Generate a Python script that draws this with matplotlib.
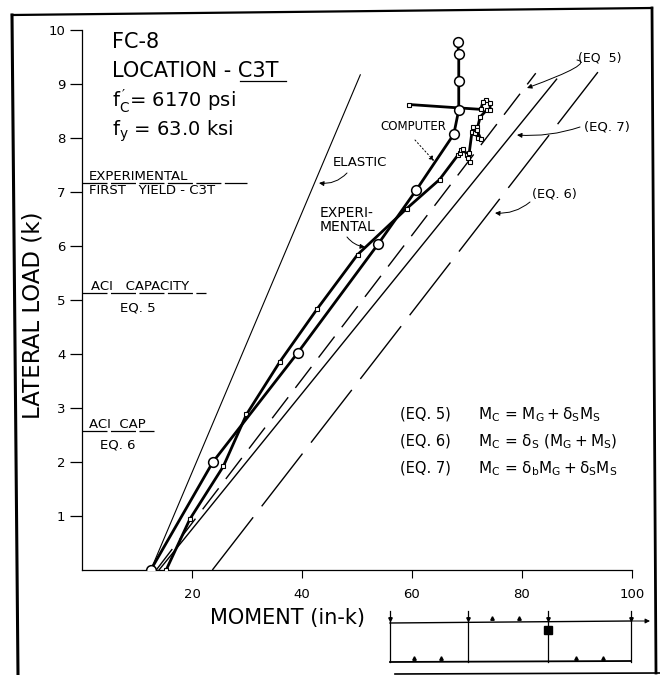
import matplotlib
matplotlib.use("Agg")
import matplotlib.pyplot as plt

plt.rcParams.update({
    "font.family": "DejaVu Sans",
    "mathtext.fontset": "dejavusans",
    "lines.scale_dashes": False,
})

#Computer curve (circles)
comp_moment = [12.5, 23.8, 39.2, 53.8, 60.8, 67.6, 68.5, 68.5, 68.5, 68.3]
comp_load = [0.0, 2.0, 4.02, 6.03, 7.04, 8.07, 8.52, 9.06, 9.55, 9.78]

#Experimental curve (squares), bunched up where the section yields
exp_moment = [15.3, 19.6, 25.7, 29.9, 36.0, 42.8, 50.1, 59.0, 65.0, 68.4, 68.7, 68.9, 69.3,
              70.0, 70.2, 70.5, 70.4, 70.9, 71.1, 71.8, 71.5, 72.0, 72.5, 71.8, 72.4,
              73.6, 74.2, 74.2, 73.5, 72.9, 72.5, 59.5]
exp_load = [0.0, 0.94, 1.92, 2.88, 3.86, 4.84, 5.84, 6.69, 7.23, 7.69, 7.72, 7.78, 7.8,
            7.69, 7.63, 7.56, 7.72, 8.11, 8.2, 8.2, 8.09, 8.0, 7.98, 8.15, 8.39,
            8.52, 8.52, 8.65, 8.7, 8.67, 8.53, 8.62]

#Theory lines
elastic_moment = [12.5, 50.6]
elastic_load = [0.0, 9.17]
eq5_moment = [13.5, 82.5]
eq5_load = [0.0, 9.2]
eq7_moment = [14.0, 86.3]
eq7_load = [0.0, 9.09]
eq6_moment = [23.7, 93.8]
eq6_load = [0.0, 9.22]

#Capacity levels marked on the load axis
level_load = [7.17, 5.13, 2.58]
level_end = [30.0, 22.5, 13.0]

x_ticks = [20, 40, 60, 80, 100]
y_ticks = [1, 2, 3, 4, 5, 6, 7, 8, 9, 10]

#Load arrangement sketch under the plot (pixels)
sketch_x = [390, 468, 548, 631]
sketch_top_ticks = [492, 519]
sketch_bottom_ticks = [414, 441, 576, 603]

W, H = 660, 675
fig = plt.figure(figsize=(W / 100, H / 100), dpi=100)
ax = fig.add_axes([82 / W, 1 - 570 / H, 550 / W, 540 / H])

#Overlay in pixel coordinates for frame, notes and sketch
ov = fig.add_axes([0, 0, 1, 1], zorder=5)
ov.set_xlim(0, W)
ov.set_ylim(H, 0)
ov.axis("off")
ov.patch.set_alpha(0)

ax.plot(elastic_moment, elastic_load, color="black", lw=0.8)
ax.plot(eq5_moment, eq5_load, color="black", lw=1.0, dashes=(19, 8.5))
ax.plot(eq7_moment, eq7_load, color="black", lw=1.0)
ax.plot(eq6_moment, eq6_load, color="black", lw=1.0, dashes=(48, 10))
ax.plot(comp_moment, comp_load, color="black", lw=2.0, marker="o", ms=7,
        mfc="white", mec="black", mew=1.1, zorder=4)
ax.plot(exp_moment, exp_load, color="black", lw=2.0, marker="s", ms=3.2,
        mfc="white", mec="black", mew=0.8, zorder=3)
for lev, end in zip(level_load, level_end):
    ax.plot([0, end], [lev, lev], color="black", lw=0.9, dashes=(18, 2.5))

ax.set_xlim(0, 100)
ax.set_ylim(0, 10)
ax.set_xticks(x_ticks)
ax.set_yticks(y_ticks)
ax.tick_params(axis="x", length=6, width=0.8, pad=7, labelsize=9.5)
ax.tick_params(axis="y", length=9, width=0.9, pad=3, labelsize=9.5)
ax.spines["top"].set_visible(False)
ax.spines["right"].set_visible(False)
ax.spines["left"].set_linewidth(0.9)
ax.spines["bottom"].set_linewidth(0.9)

#Frame
ov.plot([12, 652], [15, 8], color="black", lw=1.6, clip_on=False)
ov.plot([12, 18], [15, 675], color="black", lw=2.2, clip_on=False)
ov.plot([652, 656], [8, 673], color="black", lw=2.0, clip_on=False)
ov.plot([395, 660], [674, 673], color="black", lw=1.2, clip_on=False)

#Axis titles
ov.text(33, 315, "LATERAL LOAD (k)", rotation=90, fontsize=16.5, ha="center", va="center")
ov.text(287, 618, "MOMENT (in-k)", fontsize=15, ha="center", va="center")

#Header
ov.text(112, 42, "FC-8", fontsize=15, va="center")
ov.text(112, 71, "LOCATION - C3T", fontsize=15, va="center")
ov.plot([240, 286], [81, 81], color="black", lw=0.9)
ov.text(112, 101, r"$\mathregular{f_C^{\,\prime}}$= 6170 psi", fontsize=14, va="center")
ov.text(112, 131, r"$\mathregular{f_y}$ = 63.0 ksi", fontsize=14, va="center")

#Capacity notes
ov.text(89, 176, "EXPERIMENTAL", fontsize=9.5, va="center")
ov.text(89, 191, "FIRST   YIELD - C3T", fontsize=9.5, va="center")
ov.text(91, 286, "ACI   CAPACITY", fontsize=9.5, va="center")
ov.text(120, 308, "EQ. 5", fontsize=9.5, va="center")
ov.text(89, 424, "ACI  CAP", fontsize=9.5, va="center")
ov.text(100, 445, "EQ. 6", fontsize=9.5, va="center")

#Curve labels with arrows
ov.text(333, 163, "ELASTIC", fontsize=9.5, va="center")
ov.text(320, 213, "EXPERI-", fontsize=10, va="center")
ov.text(320, 227, "MENTAL", fontsize=10, va="center")
ov.text(380, 127, "COMPUTER", fontsize=8.5, va="center")
ov.text(578, 58, "(EQ  5)", fontsize=9, va="center")
ov.text(584, 127, "(EQ. 7)", fontsize=9.5, va="center")
ov.text(532, 194, "(EQ. 6)", fontsize=9.3, va="center")

arrow = dict(arrowstyle="-|>", color="black", lw=0.7, mutation_scale=7, shrinkA=0, shrinkB=0)
ov.annotate("", xy=(319, 183), xytext=(347, 173), arrowprops=dict(arrow, connectionstyle="arc3,rad=-0.25"))
ov.annotate("", xy=(365, 247), xytext=(347, 237), arrowprops=dict(arrow, connectionstyle="arc3,rad=0.2"))
ov.annotate("", xy=(434, 161), xytext=(415, 140), arrowprops=dict(arrow, ls=":"))
ov.annotate("", xy=(527, 88), xytext=(577, 60), arrowprops=dict(arrow, connectionstyle="angle3,angleA=170,angleB=20"))
ov.annotate("", xy=(517, 135), xytext=(580, 127), arrowprops=dict(arrow, connectionstyle="arc3,rad=-0.1"))
ov.annotate("", xy=(495, 213), xytext=(530, 202), arrowprops=dict(arrow, connectionstyle="arc3,rad=-0.2"))

#Equations
ov.text(400, 414, "(EQ. 5)", fontsize=10.5, va="center")
ov.text(400, 441, "(EQ. 6)", fontsize=10.5, va="center")
ov.text(400, 468, "(EQ. 7)", fontsize=10.5, va="center")
ov.text(478, 415, r"$\mathregular{M_C}$ = $\mathregular{M_G + \delta_S M_S}$", fontsize=11, va="center")
ov.text(478, 442, r"$\mathregular{M_C}$ = $\mathregular{\delta_S\ (M_G + M_S)}$", fontsize=11, va="center")
ov.text(478, 469, r"$\mathregular{M_C}$ = $\mathregular{\delta_b M_G + \delta_S M_S}$", fontsize=11, va="center")

#Sketch of the beam
ov.plot([sketch_x[0], sketch_x[-1]], [623, 621], color="black", lw=1.0)
ov.annotate("", xy=(650, 621), xytext=(631, 621), arrowprops=dict(arrow))
ov.plot([sketch_x[0], sketch_x[-1]], [662, 661], color="black", lw=1.3)
for x in sketch_x:
    ov.plot([x, x], [611, 662], color="black", lw=0.9)
    ov.plot([x], [619], marker="v", ms=2.5, color="black")
for x in sketch_top_ticks:
    ov.plot([x], [618], marker="^", ms=2.5, color="black")
for x in sketch_bottom_ticks:
    ov.plot([x], [658], marker="^", ms=2.5, color="black")
ov.plot([548], [630], marker="s", ms=5.8, color="black")

fig.savefig("out.png", dpi=100, facecolor="white")
